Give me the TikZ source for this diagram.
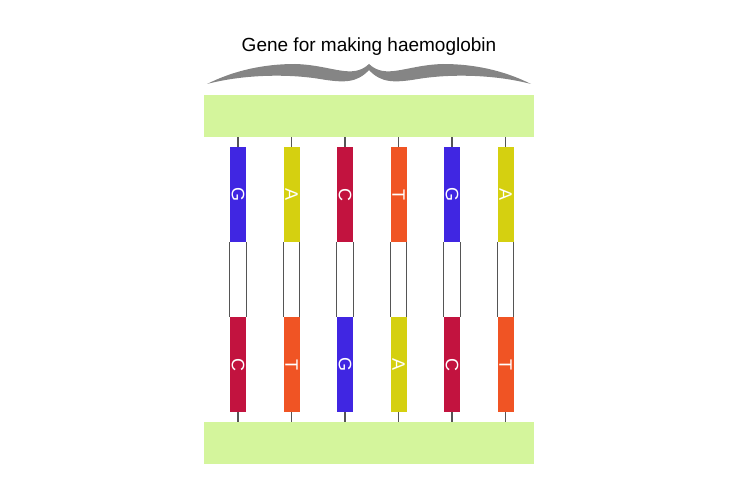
\documentclass[tikz,border=0pt]{standalone}
\usepackage{fontspec}
\setmainfont{Liberation Sans}
\usetikzlibrary{positioning}
\definecolor{baseG}{HTML}{4026E2}
\definecolor{baseA}{HTML}{D5D010}
\definecolor{baseC}{HTML}{C2133F}
\definecolor{baseT}{HTML}{F05424}
\definecolor{strand}{HTML}{D4F59C}
\definecolor{rail}{HTML}{555555}
\definecolor{brace}{HTML}{858585}
\newcommand{\baseletter}[1]{\fontsize{18}{18}\selectfont #1}
\tikzset{
  strandbar/.style={fill=strand,draw=none,minimum width=330pt,minimum height=42pt,inner sep=0pt},
  basebox/.style={fill=base#1,draw=none,minimum width=16pt,minimum height=95pt,inner sep=0pt},
  baselabel/.style={rotate=-90,text=white,inner sep=0pt},
  bondline/.style={draw=rail,line width=1.2pt}
}
\begin{document}
\begin{tikzpicture}[x=1pt,y=-1pt]
\useasboundingbox (0,0) rectangle (750,500);
% title and brace
\node (title) at (369,47) {\fontsize{19}{23}\selectfont Gene for making haemoglobin};
\foreach \s in {1,-1}{
\fill[brace,xshift=369pt,xscale=\s,xshift=-369pt]
  (207,84) .. controls (235,70) and (265,64) .. (295,64)
  .. controls (332,65) and (352,80) .. (369,64)
  -- (369,70) .. controls (357,83) and (344,83) .. (320,79)
  .. controls (290,74) and (245,74) .. (207,84) -- cycle;
}
% the two strands
\node[strandbar] (top) at (369,116) {};
\node[strandbar] (bot) at (369,443) {};
% base pairs
\foreach \up/\dn [count=\i] in {G/C,A/T,C/G,T/A,G/C,A/T}{
  \node[basebox=\up] (t\i) at ({238+53.5*(\i-1)},194.5) {};
  \node[basebox=\dn] (b\i) at ({238+53.5*(\i-1)},364.5) {};
  \node[baselabel] (tl\i) at (t\i) {\baseletter{\up}};
  \node[baselabel] (bl\i) at (b\i) {\baseletter{\dn}};
  \draw[bondline] (t\i.north) -- (t\i.north |- top.south);
  \draw[bondline] (b\i.south) -- (b\i.south |- bot.north);
  \draw[bondline] (t\i.south west) -- (b\i.north west);
  \draw[bondline] (t\i.south east) -- (b\i.north east);
}
\end{tikzpicture}
\end{document}
